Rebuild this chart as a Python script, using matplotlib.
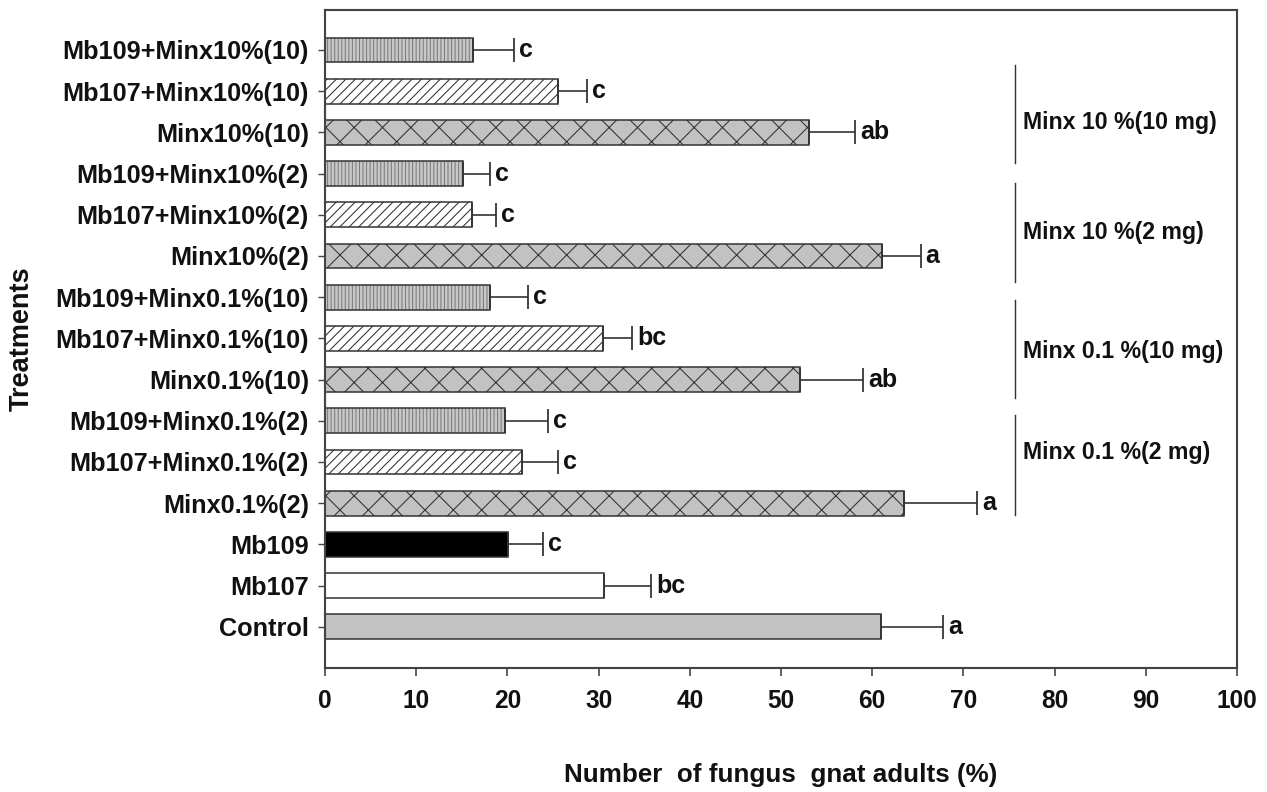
import matplotlib
matplotlib.use("Agg")
import matplotlib.pyplot as plt
import numpy as np

# Treatments listed top to bottom as they appear on the chart
treatments = [
    "Mb109+Minx10%(10)", "Mb107+Minx10%(10)", "Minx10%(10)",
    "Mb109+Minx10%(2)", "Mb107+Minx10%(2)", "Minx10%(2)",
    "Mb109+Minx0.1%(10)", "Mb107+Minx0.1%(10)", "Minx0.1%(10)",
    "Mb109+Minx0.1%(2)", "Mb107+Minx0.1%(2)", "Minx0.1%(2)",
    "Mb109", "Mb107", "Control",
]
means = [16.2, 25.6, 53.1, 15.1, 16.1, 61.1, 18.1, 30.5, 52.1,
         19.7, 21.6, 63.5, 20.1, 30.6, 61.0]
errors = [4.5, 3.1, 5.0, 3.0, 2.7, 4.2, 4.2, 3.2, 6.9,
          4.7, 3.9, 8.0, 3.8, 5.2, 6.8]
letters = ["c", "c", "ab", "c", "c", "a", "c", "bc", "ab",
           "c", "c", "a", "c", "bc", "a"]

group_names = ["Minx 10 %(10 mg)", "Minx 10 %(2 mg)",
               "Minx 0.1 %(10 mg)", "Minx 0.1 %(2 mg)"]
x_ticks = [0, 10, 20, 30, 40, 50, 60, 70, 80, 90, 100]

DPI = 170
plt.rcParams["font.family"] = ["Liberation Sans", "DejaVu Sans"]
plt.rcParams["font.weight"] = "bold"
plt.rcParams["hatch.linewidth"] = 0.45

GRAY = "#c2c2c2"
EDGE = "#333333"


def bar_style(name):
    # facecolor, hatch pattern, hatch colour
    if name.startswith("Mb109+"):
        return dict(facecolor="#c8c8c8", hatch="||||||||", hcolor="#7c7c7c")
    if name.startswith("Mb107+"):
        return dict(facecolor="white", hatch="//////", hcolor=EDGE)
    if name.startswith("Minx"):
        return dict(facecolor=GRAY, hatch="xx", hcolor=EDGE)
    if name == "Mb109":
        return dict(facecolor="black", hatch=None, hcolor=EDGE)
    if name == "Mb107":
        return dict(facecolor="white", hatch=None, hcolor=EDGE)
    return dict(facecolor=GRAY, hatch=None, hcolor=EDGE)


fig = plt.figure(figsize=(1267 / DPI, 792 / DPI), dpi=DPI)
ax = fig.add_axes([325 / 1267, 124 / 792, 912 / 1267, 658 / 792])

n = len(treatments)
ypos = np.arange(n)[::-1]

for y, name, m in zip(ypos, treatments, means):
    st = bar_style(name)
    # filled, hatched body (hatch takes the edge colour)
    ax.barh(y, m, height=0.6, color=st["facecolor"], edgecolor=st["hcolor"],
            linewidth=0, hatch=st["hatch"], zorder=2)
    # dark outline on top
    ax.barh(y, m, height=0.6, facecolor="none", edgecolor=EDGE,
            linewidth=0.65, zorder=2.5)

ax.errorbar(means, ypos, xerr=[np.zeros(n), errors], fmt="none",
            ecolor=EDGE, elinewidth=0.7, capsize=5.0, capthick=0.75, zorder=3)

for y, m, e, lab in zip(ypos, means, errors, letters):
    ax.text(m + e + 0.55, y, lab, ha="left", va="center",
            fontsize=10.6, fontweight="bold", color="#111111")

# Group brackets on the right-hand side
bracket_spans = [(13.64, 11.26), (10.77, 8.37), (7.93, 5.55), (5.14, 2.71)]
label_rows = [12.25, 9.58, 6.67, 4.24]
for (y0, y1), yl, g in zip(bracket_spans, label_rows, group_names):
    ax.plot([75.7, 75.7], [y0, y1], color="#333333", lw=0.6, zorder=2)
    ax.text(76.5, yl, g, ha="left", va="center", fontsize=9.8,
            fontweight="bold", color="#111111")

ax.set_xlim(0, 100)
ax.set_ylim(-1, 14.97)
ax.set_xticks(x_ticks)
ax.set_xticklabels([str(t) for t in x_ticks])
ax.set_yticks(ypos)
ax.set_yticklabels(treatments)

for s in ax.spines.values():
    s.set_color("#444444")
    s.set_linewidth(0.9)

ax.tick_params(axis="x", direction="out", length=3.2, width=0.7,
               color="#444444", pad=5.5, labelsize=10.4, top=False)
ax.tick_params(axis="y", direction="out", length=2.8, width=0.6,
               color="#444444", pad=4.0, labelsize=10.7, right=False)
for lbl in ax.get_xticklabels() + ax.get_yticklabels():
    lbl.set_fontweight("bold")
    lbl.set_color("#111111")

fig.text(781 / 1267, 1 - 775 / 792, "Number  of fungus  gnat adults (%)",
         ha="center", va="center", fontsize=11, fontweight="bold",
         color="#111111")
fig.text(22 / 1267, 1 - 339 / 792, "Treatments", rotation=90,
         ha="center", va="center", fontsize=11.5, fontweight="bold",
         color="#111111")

fig.savefig("out.png", dpi=DPI)
